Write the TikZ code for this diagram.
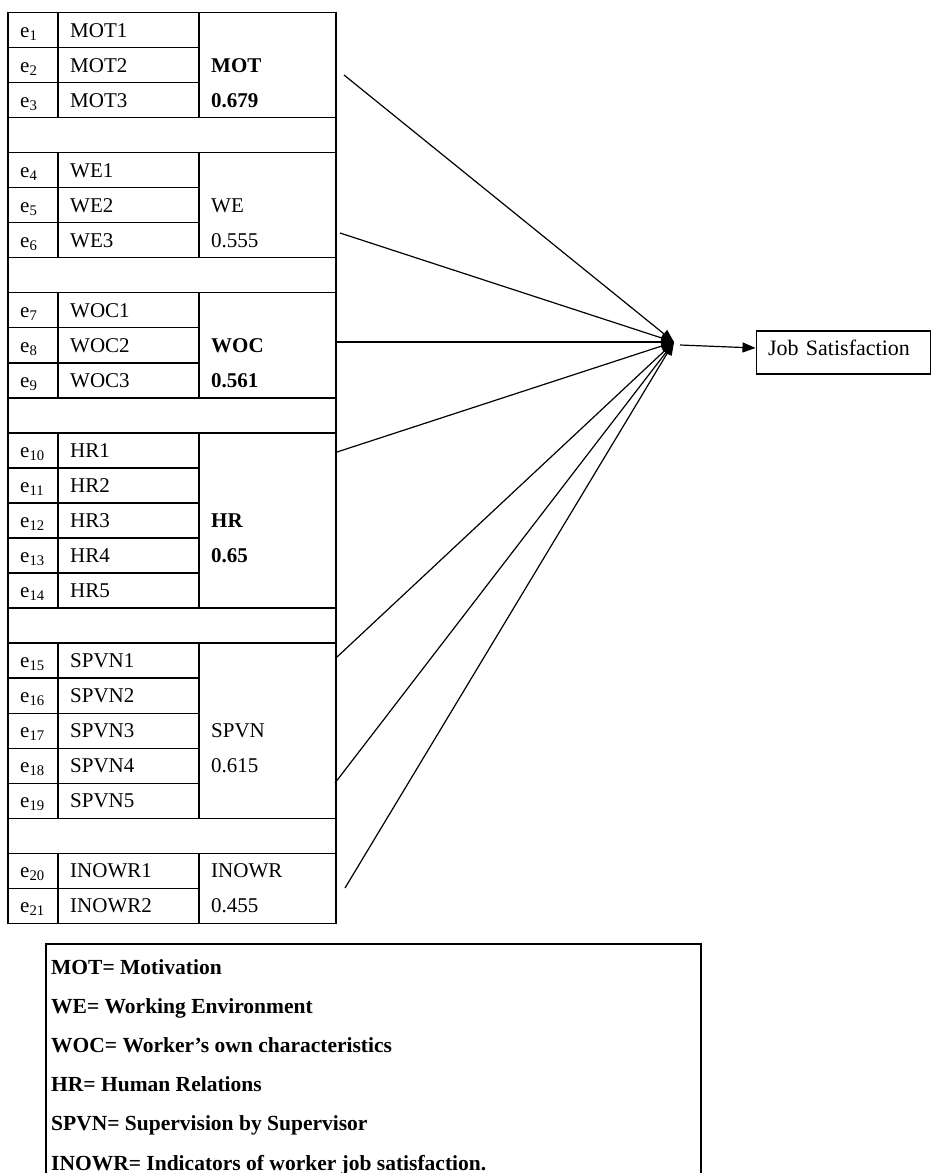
\documentclass[tikz,border=0pt]{standalone}
\usepackage{fontspec}
\setmainfont{Liberation Serif}
\usetikzlibrary{arrows.meta,calc}
\newcommand\tabfont{\fontsize{21}{25}\selectfont}
\newcommand\keyfont{\fontsize{21.5}{25}\selectfont\bfseries}
\begin{document}
\begin{tikzpicture}[x=1pt,y=-1pt,
  declare function={rt(\k)=12.7+35.02*\k; bl(\k)=rt(\k)+24.3;},
  grid/.style={line width=1.2pt},
  cell/.style={inner sep=0pt, anchor=base west, font=\tabfont},
  hd/.style={cell, font=\tabfont\bfseries},
  conn/.style={line width=1.2pt, -{Triangle[length=13pt,width=10pt]}},
  key/.style={inner sep=0pt, anchor=base west, font=\keyfont},
]
\useasboundingbox (0,0) rectangle (930,1173);

% measurement table: outer frame, block separators, inner rules
\draw[grid] (8,{rt(0)}) rectangle (336,{rt(26)});
\foreach \r in {3,4,7,8,11,12,17,18,23,24}
  \draw[grid] (8,{rt(\r)}) -- (336,{rt(\r)});
\foreach \r in {1,2,5,6,9,10,13,14,15,16,19,20,21,22,25}
  \draw[grid] (8,{rt(\r)}) -- (199,{rt(\r)});
\foreach \a/\b in {0/3,4/7,8/11,12/17,18/23,24/26} {
  \draw[grid] (58,{rt(\a)}) -- (58,{rt(\b)});
  \draw[grid] (199,{rt(\a)}) -- (199,{rt(\b)});
}

% error terms and indicators
\foreach \n/\t/\r in {1/MOT1/0,2/MOT2/1,3/MOT3/2,4/WE1/4,5/WE2/5,6/WE3/6,
    7/WOC1/8,8/WOC2/9,9/WOC3/10,10/HR1/12,11/HR2/13,12/HR3/14,13/HR4/15,
    14/HR5/16,15/SPVN1/18,16/SPVN2/19,17/SPVN3/20,18/SPVN4/21,19/SPVN5/22,
    20/INOWR1/24,21/INOWR2/25} {
  \node[cell] (err\n) at (20,{bl(\r)}) {e\textsubscript{\n}};
  \node[cell] (ind\n) at (70,{bl(\r)}) {\t};
}

% constructs with their loadings
\node[hd]   (MOT)    at (211,{bl(1)})  {MOT};
\node[hd]   (MOTv)   at (211,{bl(2)})  {0.679};
\node[cell] (WE)     at (211,{bl(5)})  {WE};
\node[cell] (WEv)    at (211,{bl(6)})  {0.555};
\node[hd]   (WOC)    at (211,{bl(9)})  {WOC};
\node[hd]   (WOCv)   at (211,{bl(10)}) {0.561};
\node[hd]   (HR)     at (211,{bl(14)}) {HR};
\node[hd]   (HRv)    at (211,{bl(15)}) {0.65};
\node[cell] (SPVN)   at (211,{bl(20)}) {SPVN};
\node[cell] (SPVNv)  at (211,{bl(21)}) {0.615};
\node[cell] (INOWR)  at (211,{bl(24)}) {INOWR};
\node[cell] (INOWRv) at (211,{bl(25)}) {0.455};

% outcome
\node[draw, line width=1.2pt, anchor=west, minimum height=43pt,
      text width=150pt, inner xsep=12pt, inner ysep=0pt,
      text height=8pt, text depth=3pt, font=\fontsize{22}{26}\selectfont]
      (JS) at (755.5,352.5) {Job Satisfaction};

% paths into the outcome
\coordinate (hub)    at (674,342);
\coordinate (hubout) at (680,345);
\coordinate (sMOT)   at (344,75);
\coordinate (sWE)    at (340,233);
\coordinate (sWOC)   at (335,342);
\coordinate (sHR)    at (337,452);
\coordinate (sSPa)   at (337,657);
\coordinate (sSPb)   at (335,783);
\coordinate (sINO)   at (345,888);
\foreach \s in {sMOT,sWE,sWOC,sHR,sSPa,sSPb,sINO}
  \draw[conn] (\s) -- (hub);
\draw[conn] (hubout) -- ($(JS.west)+(0,-4.5)$);

% key to the abbreviations
\draw[grid] (46,944) rectangle (701,1200);
\node[key] (k1) at (51,974)    {MOT= Motivation};
\node[key] (k2) at (51,1013.2) {WE= Working Environment};
\node[key] (k3) at (51,1052.4) {WOC= Worker’s own characteristics};
\node[key] (k4) at (51,1091.6) {HR= Human Relations};
\node[key] (k5) at (51,1130.8) {SPVN= Supervision by Supervisor};
\node[key] (k6) at (51,1170)   {INOWR= Indicators of worker job satisfaction.};
\end{tikzpicture}
\end{document}
